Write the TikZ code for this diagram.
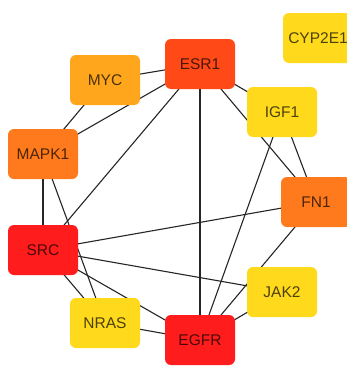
\documentclass[tikz,border=0pt]{standalone}
\usepackage{fontspec}
\setmainfont{Liberation Sans}
\usetikzlibrary{backgrounds}
\definecolor{cred}{HTML}{FF1C1C}
\definecolor{cesr}{HTML}{FF4A18}
\definecolor{corange}{HTML}{FF7A1C}
\definecolor{cmyc}{HTML}{FFA61C}
\definecolor{cyel}{HTML}{FFD91C}
\tikzset{
  gene/.style={rectangle, rounded corners=6pt, minimum width=70pt, minimum height=50pt,
    inner sep=0pt, fill=#1, text=#1!30!black, font=\fontsize{15.5}{16}\selectfont},
  link/.style={draw=black!85, line width=1.1pt}
}
\begin{document}
\begin{tikzpicture}[x=1pt,y=-1pt]
\useasboundingbox (0,0) rectangle (347,367);
\node[gene=cesr]    (esr1)   at (200,64)  {ESR1};
\node[gene=cmyc]    (myc)    at (105,80)  {MYC};
\node[gene=cyel]    (cyp)    at (318,38)  {CYP2E1};
\node[gene=cyel]    (igf1)   at (282,112) {IGF1};
\node[gene=corange] (mapk1)  at (43,154)  {MAPK1};
\node[gene=corange] (fn1)    at (316,202) {FN1};
\node[gene=cred]    (src)    at (43,250)  {SRC};
\node[gene=cyel]    (jak2)   at (282,292) {JAK2};
\node[gene=cyel]    (nras)   at (105,323) {NRAS};
\node[gene=cred]    (egfr)   at (200,340) {EGFR};
\begin{scope}[on background layer]
\fill[white] (0,0) rectangle (347,367);
\draw[link] (esr1.center) -- (myc.center);
\draw[link] (esr1.center) -- (mapk1.center);
\draw[link] (esr1.center) -- (src.center);
\draw[link] (esr1.center) -- (egfr.center);
\draw[link] (esr1.center) -- (igf1.center);
\draw[link] (esr1.center) -- (fn1.center);
\draw[link] (myc.center) -- (mapk1.center);
\draw[link] (mapk1.center) -- (src.center);
\draw[link] (mapk1.center) -- (nras.center);
\draw[link] (igf1.center) -- (fn1.center);
\draw[link] (igf1.center) -- (egfr.center);
\draw[link] (fn1.center) -- (src.center);
\draw[link] (fn1.center) -- (egfr.center);
\draw[link] (jak2.center) -- (egfr.center);
\draw[link] (src.center) -- (jak2.center);
\draw[link] (src.center) -- (egfr.center);
\draw[link] (src.center) -- (nras.center);
\draw[link] (nras.center) -- (egfr.center);
\end{scope}
\end{tikzpicture}
\end{document}
